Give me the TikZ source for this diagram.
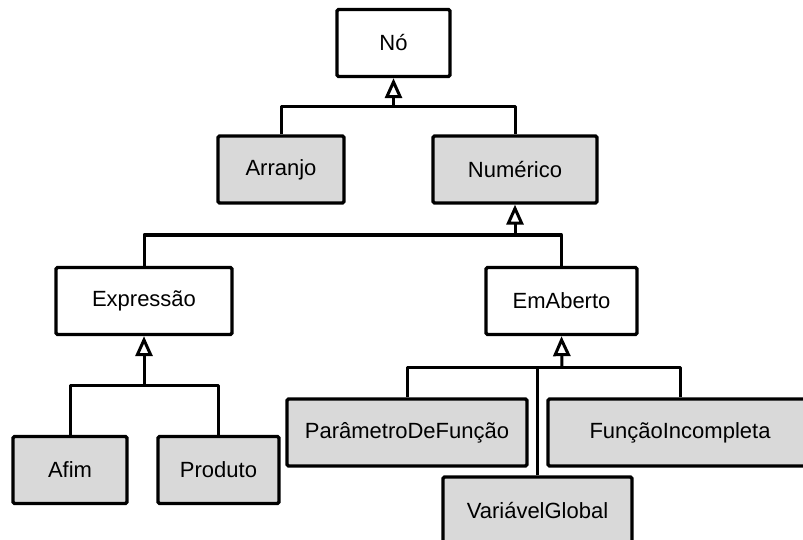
\documentclass[tikz,border=0pt]{standalone}
\usepackage{fontspec}
\setmainfont{Liberation Sans}
\usetikzlibrary{arrows.meta}
\definecolor{boxgray}{HTML}{D9D9D9}
\begin{document}
\begin{tikzpicture}[x=1pt,y=-1pt,
  font=\fontsize{22}{26}\selectfont,
  cls/.style={draw=black,line width=3.3pt,rounded corners=1.5pt,fill=white,
    inner sep=0pt,minimum height=67pt},
  leaf/.style={cls,fill=boxgray},
  conn/.style={line width=3pt,line join=round},
  inh/.style={conn,-{Triangle[open,length=20pt,width=17pt,fill=white]}}]
\useasboundingbox (0,0) rectangle (803,540);
\begin{scope}
\clip (0,0) rectangle (803,540);
% class boxes
\node[cls,minimum width=113pt]  (no)        at (393.5,43)   {Nó};
\node[leaf,minimum width=126pt] (arranjo)   at (281,169.5)  {Arranjo};
\node[leaf,minimum width=164pt] (numerico)  at (515,169.5)  {Numérico};
\node[cls,minimum width=176pt]  (expressao) at (144,301)    {Expressão};
\node[cls,minimum width=151pt]  (emaberto)  at (561.5,301)  {EmAberto};
\node[leaf,minimum width=114pt] (afim)      at (70,470)     {Afim};
\node[leaf,minimum width=121pt] (produto)   at (218.5,470)  {Produto};
\node[leaf,minimum width=240pt] (param)     at (407,432.5)  {ParâmetroDeFunção};
\node[leaf,minimum width=264pt] (funcao)    at (680,432.5)  {FunçãoIncompleta};
\node[leaf,minimum width=189pt] (variavel)  at (537.5,510.5) {VariávelGlobal};
% junction points of the inheritance trees
\coordinate (j1) at (393.5,107);
\coordinate (j2) at (515,235);
\coordinate (j3) at (144,385);
\coordinate (j4) at (562,367);
% inheritance connectors
\draw[conn] (arranjo.north) |- (j1) -| (numerico.north);
\draw[inh] (j1) -- (no.south);
\draw[conn] (expressao.north) |- (j2) -| (emaberto.north);
\draw[inh] (j2) -- (numerico.south);
\draw[conn] (afim.north) |- (j3) -| (produto.north);
\draw[inh] (j3) -- (expressao.south);
\draw[conn] (param.north) |- (j4) -| (funcao.north);
\draw[conn] (variavel.north) -- (variavel.north |- j4);
\draw[inh] (j4) -- (emaberto.south);
\end{scope}
\end{tikzpicture}
\end{document}
